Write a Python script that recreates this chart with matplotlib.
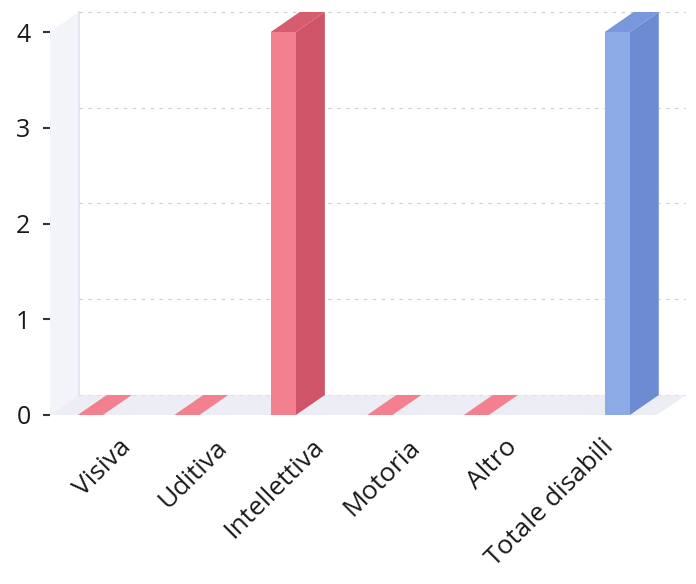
import matplotlib.pyplot as plt
from matplotlib.patches import Polygon

categories = ['Visiva', 'Uditiva', 'Intellettiva', 'Motoria', 'Altro', 'Totale disabili']
tipo_values = [0, 0, 4, 0, 0]          # red series (types of disability)
totale_values = [4]                     # blue series (total)
y_ticks = [0, 1, 2, 3, 4]

plt.rcParams['font.family'] = ['Open Sans', 'DejaVu Sans']

fig = plt.figure(figsize=(6.96, 5.84), dpi=100)
ax = fig.add_axes([50 / 696, 169 / 584, 636 / 696, 410 / 584])
x0, x1 = -0.808, 5.782
ax.set_xlim(x0, x1)
ax.set_ylim(0, 4.282)

dx, dy = 0.30, 0.209   # pseudo 3d depth
w = 0.26

# walls and floor
ax.add_patch(Polygon([(x0, 0), (x0 + dx, dy), (x0 + dx, 4 + dy), (x0, 4)],
                     closed=True, fc='#f3f3fa', ec='none', zorder=0))
ax.add_patch(Polygon([(x0, 0), (x0 + dx, dy), (x1, dy), (x1 - dx, 0)],
                     closed=True, fc='#ededf6', ec='none', zorder=0))
ax.plot([x0 + dx, x0 + dx], [dy, 4 + dy], color='#e0e0f0', lw=1.2, zorder=1)
for k in y_ticks[1:]:
    ax.plot([x0 + dx, x1], [k + dy, k + dy], color='#cfcfcf', lw=0.8,
            ls=(0, (3, 5)), zorder=1)
ax.plot([x0 + dx, x1], [dy, dy], color='#dcdcea', lw=0.8, ls=(0, (3, 5)), zorder=1)


def bar3d(xl, v, front, side, top):
    if v == 0:
        ax.add_patch(Polygon([(xl, 0), (xl + w, 0), (xl + w + dx, dy), (xl + dx, dy)],
                             closed=True, fc=front, ec='none', zorder=3))
        return
    ax.add_patch(Polygon([(xl + w, 0), (xl + w + dx, dy), (xl + w + dx, v + dy), (xl + w, v)],
                         closed=True, fc=side, ec='none', zorder=3))
    ax.add_patch(Polygon([(xl, v), (xl + dx, v + dy), (xl + w + dx, v + dy), (xl + w, v)],
                         closed=True, fc=top, ec='none', zorder=3))
    ax.add_patch(Polygon([(xl, 0), (xl + w, 0), (xl + w, v), (xl, v)],
                         closed=True, fc=front, ec='none', zorder=4))


for i, v in enumerate(tipo_values):
    bar3d(i - 0.52, v, '#f2808f', '#cf5468', '#d65c70')
for j, v in enumerate(totale_values):
    bar3d(len(tipo_values) - 0.06 + j, v, '#8cabe6', '#6c8bd3', '#7897dc')

for s in ax.spines.values():
    s.set_visible(False)
ax.set_yticks(y_ticks)
ax.set_yticklabels([str(t) for t in y_ticks], fontsize=18, color='#1a1a1a')
ax.tick_params(axis='y', length=5, width=1.5, color='#333333', pad=9)
ax.set_xticks([i - 0.1 for i in range(len(categories))])
ax.set_xticklabels(categories, rotation=45, ha='right', rotation_mode='anchor',
                   fontsize=19, color='#1a1a1a')
ax.tick_params(axis='x', length=0, pad=14)

fig.savefig('out.png', dpi=100)
